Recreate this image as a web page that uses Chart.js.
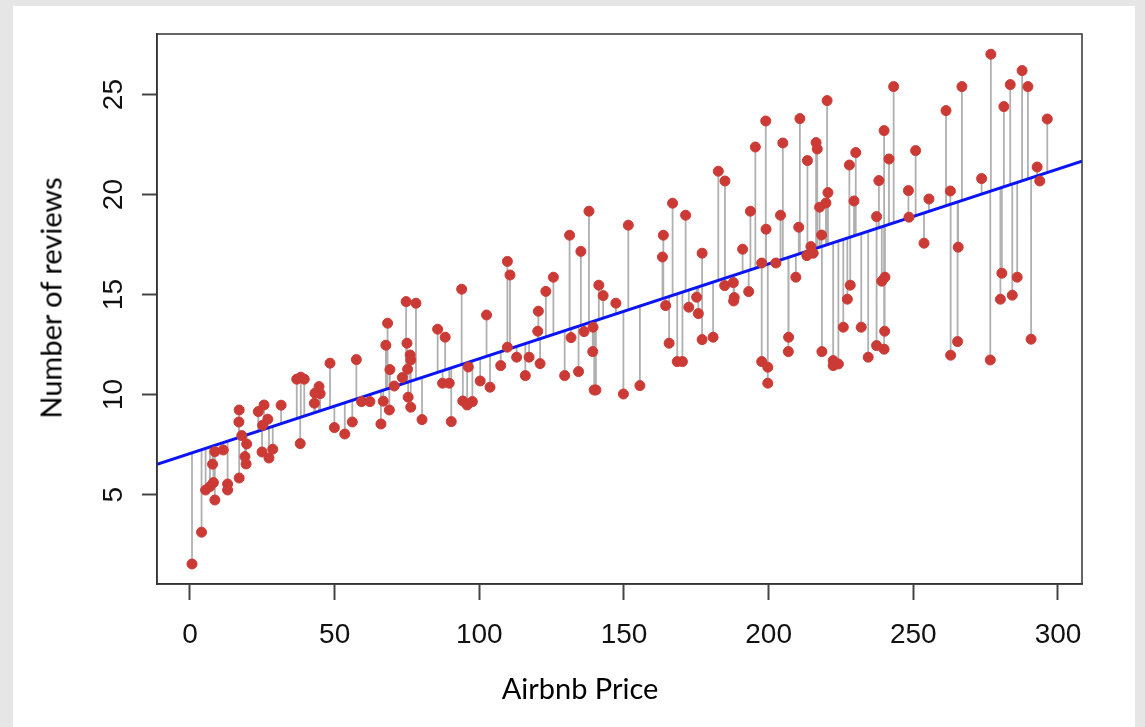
<!DOCTYPE html>
<html lang="pt-BR">
<head>
<meta charset="utf-8">
<title>Airbnb Price x Number of reviews</title>
<script src="https://cdn.jsdelivr.net/npm/chart.js@4.4.1/dist/chart.umd.min.js"></script>
<style>
    html, body { margin: 0; padding: 0; }
    body { width: 1145px; height: 727px; background: #e6e6e6; position: relative; overflow: hidden; }
    .cartao { position: absolute; left: 13px; top: 6px; width: 1122px; height: 721px; background: #fff; }
    #graficoPreco { position: absolute; left: 0; top: 0; }
    .tituloEixo { position: absolute; font-family: Lato, "Open Sans", sans-serif; font-size: 29px; color: #000; line-height: 1; white-space: nowrap; }
    #tituloX { left: 580px; top: 687px; transform: translate(-50%, -50%); }
    #tituloY { left: 50px; top: 298px; transform: translate(-50%, -50%) rotate(-90deg); }
</style>
</head>
<body>
<div class="cartao"></div>
<canvas id="graficoPreco" width="1145" height="727"></canvas>
<div class="tituloEixo" id="tituloX">Airbnb Price</div>
<div class="tituloEixo" id="tituloY">Number of reviews</div>
<script>
// Preço (eixo x) e número de avaliações (eixo y)
const precos = [
    0.7, 4.0, 5.4, 6.9, 7.8, 8.1, 8.6, 8.6, 11.5, 13.0,
    13.0, 17.0, 16.9, 17.0, 17.9, 19.0, 19.4, 19.6, 23.6, 25.6,
    25.1, 24.9, 26.9, 27.3, 28.6, 31.5, 36.9, 38.3, 39.5, 38.1,
    43.0, 43.2, 44.6, 45.0, 48.4, 49.9, 53.5, 56.1, 57.5, 59.3,
    62.2, 66.0, 66.8, 67.7, 68.3, 68.9, 69.1, 70.6, 73.4, 74.7,
    75.0, 75.2, 75.4, 76.1, 76.3, 76.3, 78.1, 80.2, 85.6, 87.3,
    88.2, 89.6, 90.3, 93.9, 94.3, 95.8, 96.2, 97.6, 100.3, 102.5,
    103.7, 107.4, 109.7, 110.6, 109.7, 112.9, 115.9, 117.2, 120.4, 120.2,
    121.0, 123.0, 125.6, 129.5, 131.2, 131.7, 134.3, 135.1, 136.2, 137.9,
    139.3, 139.2, 139.7, 140.3, 141.3, 142.8, 147.2, 149.8, 151.5, 155.5,
    163.6, 163.3, 164.4, 165.6, 166.8, 168.4, 170.2, 171.3, 172.4, 175.1,
    175.7, 177.0, 177.0, 180.8, 182.6, 184.9, 184.8, 187.8, 188.1, 187.9,
    191.0, 193.1, 193.7, 195.4, 197.6, 197.6, 199.0, 199.1, 199.7, 199.7,
    202.5, 204.1, 204.9, 206.9, 206.8, 209.4, 210.4, 210.8, 213.4, 213.2,
    214.6, 215.4, 216.4, 216.8, 217.6, 218.3, 218.4, 219.8, 220.5, 220.2,
    222.3, 222.3, 224.1, 225.8, 227.2, 227.9, 228.2, 229.5, 230.1, 232.0,
    234.4, 237.3, 237.3, 238.1, 239.1, 240.2, 239.9, 240.1, 239.9, 241.6,
    243.2, 248.3, 248.5, 250.8, 253.7, 255.4, 261.3, 262.8, 262.9, 265.5,
    265.3, 266.8, 273.6, 276.8, 276.6, 281.3, 280.6, 280.1, 283.5, 284.2,
    285.9, 287.6, 289.6, 290.7, 292.8, 293.7, 296.3
];
const avaliacoes = [
    1.53, 3.12, 5.23, 5.40, 6.52, 5.60, 4.73, 7.15, 7.23, 5.53,
    5.23, 9.23, 8.63, 5.83, 7.95, 6.90, 6.53, 7.53, 9.15, 9.48,
    8.47, 7.13, 8.77, 6.83, 7.27, 9.47, 10.77, 10.87, 10.77, 7.55,
    9.57, 10.07, 10.40, 10.05, 11.57, 8.35, 8.03, 8.63, 11.75, 9.65,
    9.65, 8.53, 9.67, 12.47, 13.57, 9.23, 11.25, 10.43, 10.85, 14.65,
    12.57, 11.27, 9.87, 11.98, 11.73, 9.37, 14.57, 8.75, 13.27, 10.57,
    12.87, 10.57, 8.65, 15.27, 9.68, 9.48, 11.38, 9.65, 10.68, 13.98,
    10.37, 11.45, 16.66, 15.98, 12.37, 11.87, 10.95, 11.87, 14.17, 13.17,
    11.55, 15.16, 15.87, 10.95, 17.97, 12.85, 11.15, 17.16, 13.15, 19.17,
    13.37, 12.15, 10.23, 10.23, 15.47, 14.95, 14.57, 10.03, 18.47, 10.45,
    17.97, 16.88, 14.45, 12.57, 19.57, 11.65, 11.65, 18.97, 14.37, 14.87,
    14.05, 17.07, 12.75, 12.87, 21.17, 20.68, 15.45, 15.60, 14.85, 14.68,
    17.27, 15.15, 19.17, 22.38, 16.58, 11.65, 23.68, 18.27, 11.37, 10.57,
    16.58, 18.97, 22.58, 12.87, 12.15, 15.87, 18.37, 23.80, 21.70, 16.95,
    17.40, 17.07, 22.60, 22.28, 19.37, 17.98, 12.15, 19.58, 20.10, 24.70,
    11.70, 11.45, 11.53, 13.37, 14.77, 21.48, 15.47, 19.68, 22.10, 13.37,
    11.87, 12.45, 18.90, 20.70, 15.67, 15.87, 12.27, 13.17, 23.20, 21.78,
    25.40, 20.20, 18.87, 22.20, 17.57, 19.78, 24.20, 20.18, 11.97, 17.37,
    12.65, 25.40, 20.80, 27.02, 11.73, 24.40, 16.07, 14.77, 25.50, 14.97,
    15.87, 26.20, 25.40, 12.77, 21.38, 20.68, 23.78
];

// Reta de regressão (coeficientes)
const intercepto = 7.06;
const inclinacao = 0.0474;

const ticksX = [0, 50, 100, 150, 200, 250, 300];
const ticksY = [5, 10, 15, 20, 25];

// limites dos eixos (folga de 4% como no R)
const limiteX = [-11.4, 308.3];
const limiteY = [0.53, 28.03];

const pontos = precos.map((p, i) => ({ x: p, y: avaliacoes[i] }));
const reta = limiteX.map(x => ({ x: x, y: intercepto + inclinacao * x }));

// resíduos: segmento vertical do ponto até a reta (null quebra a linha)
const residuos = [];
precos.forEach((p, i) => {
    residuos.push({ x: p, y: avaliacoes[i] });
    residuos.push({ x: p, y: intercepto + inclinacao * p });
    residuos.push({ x: p, y: null });
});

const fonteTicks = '"Liberation Sans", Arial, sans-serif';

// caixa em volta da área do gráfico
const caixaGrafico = {
    id: 'caixaGrafico',
    afterDatasetsDraw(chart) {
        const { ctx, chartArea: a } = chart;
        ctx.save();
        ctx.strokeStyle = '#333';
        ctx.lineWidth = 1.5;
        ctx.strokeRect(a.left, a.top, a.right - a.left, a.bottom - a.top);
        ctx.restore();
    }
};

// rótulos do eixo y na vertical (estilo R)
const rotulosY = {
    id: 'rotulosY',
    afterDraw(chart) {
        const ctx = chart.ctx;
        const eixo = chart.scales.y;
        ctx.save();
        ctx.font = '28px ' + fonteTicks;
        ctx.fillStyle = '#111';
        ctx.textAlign = 'center';
        ctx.textBaseline = 'alphabetic';
        ticksY.forEach(v => {
            ctx.save();
            ctx.translate(122, eixo.getPixelForValue(v));
            ctx.rotate(-Math.PI / 2);
            ctx.fillText(String(v), 0, 0);
            ctx.restore();
        });
        ctx.restore();
    }
};

const ctx = document.getElementById('graficoPreco');

new Chart(ctx, {
    type: 'scatter',
    data: {
        datasets: [
            {
                label: 'Avaliações',
                data: pontos,
                backgroundColor: '#cc3a35',
                borderColor: '#cc3a35',
                borderWidth: 1,
                pointRadius: 5
            },
            {
                label: 'Regressão',
                type: 'line',
                data: reta,
                borderColor: '#0a14f5',
                borderWidth: 3,
                pointRadius: 0,
                fill: false
            },
            {
                label: 'Resíduos',
                type: 'line',
                data: residuos,
                borderColor: '#b0b0b0',
                borderWidth: 1.8,
                pointRadius: 0,
                spanGaps: false,
                fill: false
            }
        ]
    },
    options: {
        responsive: false,
        animation: false,
        events: [],
        layout: { padding: { top: 34, right: 63, left: 0, bottom: 0 } },
        plugins: {
            legend: { display: false },
            tooltip: { enabled: false }
        },
        scales: {
            x: {
                type: 'linear',
                min: limiteX[0],
                max: limiteX[1],
                afterBuildTicks: s => { s.ticks = ticksX.map(v => ({ value: v })); },
                afterFit: s => { s.height = 143; },
                grid: { drawOnChartArea: false, drawTicks: true, tickLength: 16, tickColor: '#444', tickWidth: 2 },
                border: { display: true, color: '#333', width: 1.5 },
                ticks: {
                    autoSkip: false,
                    maxRotation: 0,
                    padding: 18,
                    color: '#111',
                    font: { family: fonteTicks, size: 28 }
                }
            },
            y: {
                type: 'linear',
                min: limiteY[0],
                max: limiteY[1],
                afterBuildTicks: s => { s.ticks = ticksY.map(v => ({ value: v })); },
                afterFit: s => { s.width = 157; },
                grid: { drawOnChartArea: false, drawTicks: true, tickLength: 15, tickColor: '#444', tickWidth: 2 },
                border: { display: true, color: '#333', width: 1.5 },
                ticks: { display: false }
            }
        }
    },
    plugins: [caixaGrafico, rotulosY]
});
</script>
</body>
</html>
